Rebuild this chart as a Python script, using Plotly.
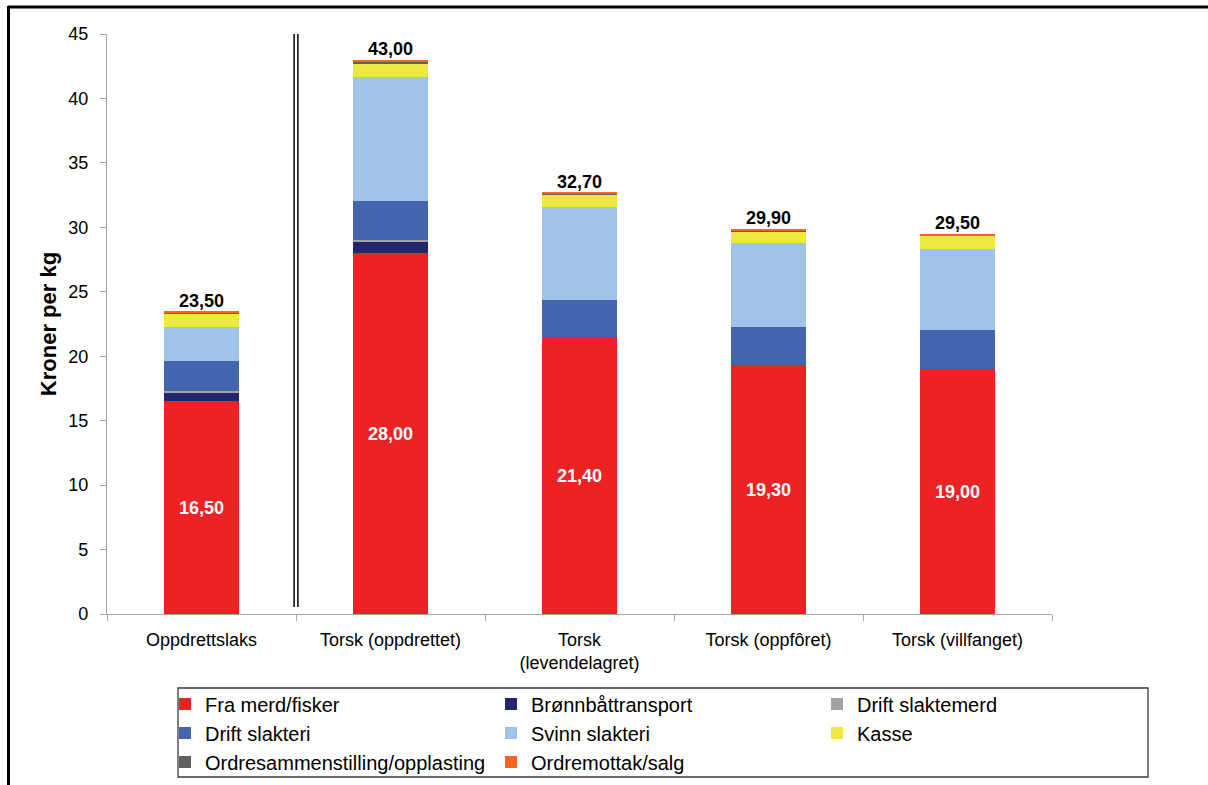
import plotly.graph_objects as go

# Cost build-up per product (NOK per kg)
categories = ["Oppdrettslaks", "Torsk (oppdrettet)", "Torsk<br>(levendelagret)",
              "Torsk (oppfôret)", "Torsk (villfanget)"]

fra_merd_fisker = [16.50, 28.00, 21.40, 19.30, 19.00]
bronnbattransport = [0.70, 0.90, 0.00, 0.00, 0.00]
drift_slaktemerd = [0.10, 0.15, 0.00, 0.00, 0.00]
drift_slakteri = [2.30, 3.00, 3.00, 3.00, 3.00]
svinn_slakteri = [2.70, 9.65, 7.15, 6.45, 6.35]
kasse = [1.05, 1.00, 1.00, 0.95, 1.00]
ordresammenstilling = [0.05, 0.10, 0.05, 0.05, 0.05]
ordremottak_salg = [0.10, 0.20, 0.10, 0.15, 0.10]

series = [
    ("Fra merd/fisker", fra_merd_fisker, "#EE2224"),
    ("Brønnbåttransport", bronnbattransport, "#23266E"),
    ("Drift slaktemerd", drift_slaktemerd, "#A3A3A3"),
    ("Drift slakteri", drift_slakteri, "#4464AD"),
    ("Svinn slakteri", svinn_slakteri, "#9FC4E7"),
    ("Kasse", kasse, "#EEE93F"),
    ("Ordresammenstilling/opplasting", ordresammenstilling, "#5F5F5F"),
    ("Ordremottak/salg", ordremottak_salg, "#F26522"),
]

FONT = "Liberation Sans, Arial, sans-serif"

fig = go.Figure()
for name, vals, color in series:
    is_base = name == "Fra merd/fisker"
    fig.add_trace(go.Bar(
        x=categories, y=vals,
        name=f'<span style="font-size:20px">{name}</span>',
        marker=dict(color=color, line=dict(width=0)),
        text=[f"{v:.2f}".replace(".", ",") for v in vals] if is_base else None,
        textposition="inside" if is_base else "none",
        insidetextanchor="middle",
        textfont=dict(family=FONT, size=18, color="white", weight="bold"),
        hoverinfo="skip" if not is_base else None,
    ))

totals = [round(sum(s[1][i] for s in series), 2) for i in range(len(categories))]
fig.add_trace(go.Scatter(
    x=categories, y=totals, mode="text",
    text=[f"{t:.2f}".replace(".", ",") for t in totals],
    textposition="top center",
    textfont=dict(family=FONT, size=18, color="black", weight="bold"),
    showlegend=False, cliponaxis=False,
))

W, H = 1208, 785
ML, MR, MT, MB = 107, 156, 34, 171
PW, PH = W - ML - MR, H - MT - MB


def px_x(px):
    return (px - ML) / PW


def px_y(py):
    return (H - MB - py) / PH


shapes = [
    # double separator between salmon and cod
    dict(type="line", xref="x", yref="y", x0=0.49, x1=0.49, y0=0.55, y1=45.1,
         line=dict(color="black", width=1.5)),
    dict(type="line", xref="x", yref="y", x0=0.51, x1=0.51, y0=0.55, y1=45.1,
         line=dict(color="black", width=1.5)),
    # outer frame (top and left edges)
    dict(type="line", xref="paper", yref="paper", x0=px_x(8), x1=px_x(1220),
         y0=px_y(7), y1=px_y(7), line=dict(color="black", width=3)),
    dict(type="line", xref="paper", yref="paper", x0=px_x(8.5), x1=px_x(8.5),
         y0=px_y(6), y1=px_y(800), line=dict(color="black", width=3)),
    # legend box
    dict(type="rect", xref="paper", yref="paper", x0=px_x(178), x1=px_x(1148),
         y0=px_y(777), y1=px_y(688), line=dict(color="#3A3A3A", width=1.3)),
]

fig.update_layout(
    width=W, height=H,
    margin=dict(l=ML, r=MR, t=MT, b=MB, autoexpand=False),
    paper_bgcolor="white", plot_bgcolor="white",
    barmode="stack", bargap=0.6,
    font=dict(family=FONT, color="black"),
    showlegend=True,
    legend=dict(
        orientation="h", traceorder="normal",
        x=px_x(1143), xanchor="right", y=px_y(684.5), yanchor="top",
        entrywidth=281, borderwidth=0, bgcolor="rgba(0,0,0,0)",
        font=dict(family=FONT, size=20, color="black"),
    ),
    xaxis=dict(
        showline=True, linecolor="#A6A6A6", linewidth=1.3,
        ticks="outside", tickson="boundaries", ticklen=6, tickcolor="#A6A6A6",
        tickfont=dict(family=FONT, size=18, color="black"),
        ticklabelstandoff=9, showgrid=False, zeroline=False,
    ),
    yaxis=dict(
        range=[0, 45], dtick=5, showline=True, linecolor="#A6A6A6", linewidth=1.3,
        ticks="outside", ticklen=6, tickcolor="#A6A6A6",
        tickfont=dict(family=FONT, size=18, color="black"),
        ticklabelstandoff=8, showgrid=False, zeroline=False,
        title=dict(text="Kroner per kg", standoff=5,
                   font=dict(family=FONT, size=22, color="black", weight="bold")),
    ),
    shapes=shapes,
)

fig.write_html("out.html")
